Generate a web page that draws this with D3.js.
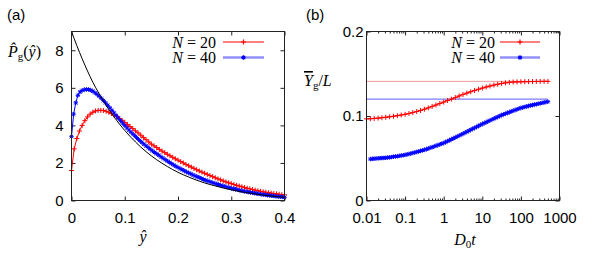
<!DOCTYPE html>
<html>
<head>
<meta charset="utf-8">
<script src="https://cdn.jsdelivr.net/npm/d3@7"></script>
<style>
  body { margin: 0; background: #fff; }
  svg { display: block; }
  .tick text { font-family: "Liberation Sans", Arial, sans-serif; font-size: 15px; fill: #000; }
  .tick line { stroke: #222; }
  .math { font-family: "Liberation Serif", "DejaVu Serif", serif; font-size: 16px; fill: #000; }
</style>
</head>
<body>
<svg id="chart" width="599" height="256"></svg>
<script>
// ---- panel (a) data: P_g(y) vs y-hat ----
const redAX = [0, .005, .01, .015, .02, .025, .03, .035, .04, .045,
  .05, .055, .06, .065, .07, .075, .08, .085, .09, .095,
  .1, .105, .11, .115, .12, .125, .13, .135, .14, .145,
  .15, .155, .16, .165, .17, .175, .18, .185, .19, .195,
  .2, .205, .21, .215, .22, .225, .23, .235, .24, .245,
  .25, .255, .26, .265, .27, .275, .28, .285, .29, .295,
  .3, .305, .31, .315, .32, .325, .33, .335, .34, .345,
  .35, .355, .36, .365, .37, .375, .38, .385, .39, .395, .4];
const redAY = [1.6, 2.75, 3.3, 3.7, 4.0, 4.25, 4.45, 4.6, 4.7, 4.77,
  4.8, 4.8, 4.79, 4.75, 4.7, 4.63, 4.55, 4.47, 4.37, 4.27,
  4.16, 4.05, 3.94, 3.83, 3.71, 3.6, 3.48, 3.36, 3.24, 3.12,
  3.0, 2.91, 2.82, 2.72, 2.63, 2.55, 2.46, 2.38, 2.3, 2.22,
  2.15, 2.07, 2.0, 1.92, 1.85, 1.78, 1.71, 1.64, 1.57, 1.51,
  1.45, 1.39, 1.33, 1.27, 1.21, 1.15, 1.1, 1.04, 0.99, 0.94,
  0.9, 0.85, 0.81, 0.77, 0.73, 0.69, 0.65, 0.62, 0.58, 0.55,
  0.52, 0.49, 0.46, 0.44, 0.41, 0.39, 0.37, 0.35, 0.33, 0.31, 0.3];
const blueAX = [0, .004, .008, .012, .016, .02, .024, .028, .032, .036,
  .04, .044, .048, .052, .056, .06, .064, .068, .072, .076,
  .08, .084, .088, .092, .096, .1, .104, .108, .112, .116,
  .12, .124, .128, .132, .136, .14, .144, .148, .152, .156,
  .16, .164, .168, .172, .176, .18, .184, .188, .192, .196,
  .2, .204, .208, .212, .216, .22, .224, .228, .232, .236,
  .24, .244, .248, .252, .256, .26, .264, .268, .272, .276,
  .28, .284, .288, .292, .296, .3, .304, .308, .312, .316,
  .32, .324, .328, .332, .336, .34, .344, .348, .352, .356,
  .36, .364, .368, .372, .376, .38, .384, .388, .392, .396, .4];
const blueAY = [3.4, 4.6, 5.2, 5.6, 5.78, 5.86, 5.9, 5.92, 5.91, 5.88,
  5.82, 5.74, 5.65, 5.55, 5.44, 5.32, 5.2, 5.07, 4.94, 4.8,
  4.66, 4.52, 4.38, 4.25, 4.12, 3.99, 3.87, 3.75, 3.63, 3.52,
  3.41, 3.3, 3.2, 3.1, 3.0, 2.91, 2.82, 2.73, 2.64, 2.56,
  2.49, 2.41, 2.33, 2.25, 2.18, 2.1, 2.03, 1.96, 1.89, 1.82,
  1.76, 1.7, 1.64, 1.58, 1.52, 1.47, 1.42, 1.36, 1.31, 1.26,
  1.22, 1.17, 1.12, 1.08, 1.04, 1.0, 0.96, 0.92, 0.88, 0.85,
  0.81, 0.78, 0.75, 0.71, 0.68, 0.65, 0.62, 0.6, 0.57, 0.54,
  0.52, 0.49, 0.47, 0.45, 0.43, 0.41, 0.39, 0.37, 0.35, 0.33,
  0.31, 0.3, 0.28, 0.27, 0.25, 0.24, 0.22, 0.21, 0.2, 0.19, 0.17];
const blackAX = [0, .01, .02, .03, .04, .05, .06, .07, .08, .09, .1,
  .12, .14, .16, .18, .2, .22, .24, .26, .28, .3, .32, .34, .36, .38, .4];
const blackAY = [9, 8.25, 7.55, 6.9, 6.3, 5.78, 5.3, 4.85, 4.45, 4.07, 3.73,
  3.12, 2.6, 2.17, 1.81, 1.5, 1.25, 1.03, 0.85, 0.7, 0.57, 0.46, 0.37, 0.29, 0.22, 0.17];

// ---- panel (b) data: Y_g/L vs D0 t ----
const redBT = [0.01, 0.0126, 0.0158, 0.02, 0.0251, 0.0316, 0.0398, 0.0501, 0.0631, 0.0794,
  0.1, 0.126, 0.158, 0.2, 0.251, 0.316, 0.398, 0.501, 0.631, 0.794,
  1, 1.26, 1.58, 2, 2.51, 3.16, 3.98, 5.01, 6.31, 7.94,
  10, 12.6, 15.8, 20, 25.1, 31.6, 39.8, 50.1, 63.1, 79.4,
  100, 126, 158, 200, 251, 316, 398, 501];
const redBY = [.0966, .0968, .0971, .0975, .0980, .0985, .0991, .0997, .1004, .1012,
  .1020, .1030, .1041, .1053, .1066, .1080, .1096, .1113, .1130, .1148,
  .1165, .1183, .1200, .1218, .1237, .1255, .1271, .1287, .1302, .1316,
  .1330, .1343, .1355, .1366, .1376, .1385, .1392, .1398, .1402, .1404,
  .1405, .1406, .1407, .1408, .1409, .1409, .1410, .1410];
const blueBT = [0.0126, 0.0141, 0.0158, 0.0178, 0.02, 0.0224, 0.0251, 0.0282, 0.0316, 0.0355,
  0.0398, 0.0447, 0.0501, 0.0562, 0.0631, 0.0708, 0.0794, 0.0891, 0.1, 0.112,
  0.126, 0.141, 0.158, 0.178, 0.2, 0.224, 0.251, 0.282, 0.316, 0.355,
  0.398, 0.447, 0.501, 0.562, 0.631, 0.708, 0.794, 0.891, 1, 1.12,
  1.26, 1.41, 1.58, 1.78, 2, 2.24, 2.51, 2.82, 3.16, 3.55,
  3.98, 4.47, 5.01, 5.62, 6.31, 7.08, 7.94, 8.91, 10, 11.2,
  12.6, 14.1, 15.8, 17.8, 20, 22.4, 25.1, 28.2, 31.6, 35.5,
  39.8, 44.7, 50.1, 56.2, 63.1, 70.8, 79.4, 89.1, 100, 112,
  126, 141, 158, 178, 200, 224, 251, 282, 316, 355,
  398, 447, 501];
const blueBY = [.0490, .0493, .0495, .0497, .0499, .0501, .0502, .0504, .0505, .0508,
  .0511, .0514, .0518, .0521, .0524, .0528, .0532, .0536, .0540, .0545,
  .0550, .0556, .0562, .0568, .0574, .0580, .0587, .0593, .0600, .0607,
  .0615, .0623, .0631, .0639, .0647, .0655, .0663, .0672, .0680, .0691,
  .0702, .0713, .0724, .0735, .0746, .0757, .0768, .0779, .0790, .0802,
  .0813, .0825, .0836, .0848, .0859, .0871, .0882, .0894, .0905, .0916,
  .0926, .0937, .0947, .0958, .0968, .0979, .0989, .1000, .1010, .1019,
  .1028, .1037, .1045, .1054, .1062, .1071, .1079, .1087, .1095, .1101,
  .1107, .1113, .1119, .1125, .1130, .1135, .1140, .1145, .1150, .1155,
  .1160, .1165, .1170];
const redLimit = 0.141, blueLimit = 0.12, limitT = [0.01, 500];

const xTicksA = [0, 0.1, 0.2, 0.3, 0.4];
const yTicksA = [0, 2, 4, 6, 8];
const xTicksB = [0.01, 0.1, 1, 10, 100, 1000];
const xLabelsB = ["0.01", "0.1", "1", "10", "100", "1000"];
const yTicksB = [0, 0.1, 0.2];
const legendNames = ["20", "40"];

const RED = "#ff0000", BLUE = "#0000ff";
const SERIF = "'Liberation Serif', 'DejaVu Serif', serif";
const svg = d3.select("#chart");

const plusPath = "M-2.5,0H2.5M0,-2.5V2.5";
const starPath = "M-2.2,0H2.2M0,-2.2V2.2M-1.7,-1.7L1.7,1.7M-1.7,1.7L1.7,-1.7";

function frame(g, xr, yr) {
  g.append("rect")
    .attr("x", xr[0]).attr("y", yr[1])
    .attr("width", xr[1] - xr[0]).attr("height", yr[0] - yr[1])
    .attr("fill", "none").attr("stroke", "#222").attr("stroke-width", 1);
}

function series(g, x, y, xs, ys, color, marker, lw) {
  const pts = xs.map((v, i) => [x(v), y(ys[i])]);
  g.append("path").attr("d", d3.line()(pts))
    .attr("fill", "none").attr("stroke", color).attr("stroke-width", lw);
  g.append("g").selectAll("path").data(pts).join("path")
    .attr("transform", d => `translate(${d[0]},${d[1]})`)
    .attr("d", marker).attr("fill", "none").attr("stroke", color).attr("stroke-width", 1);
}

function mathText(g, x, y) {
  return g.append("text").attr("class", "math").attr("x", x).attr("y", y)
    .style("font-family", SERIF).style("font-size", "16px");
}

function legend(g, xText, xLine0, xLine1) {
  const rows = [{c: RED, m: plusPath, w: 1, lc: RED}, {c: BLUE, m: starPath, w: 2.5, lc: "#9090f8"}];
  rows.forEach((r, i) => {
    const yy = 42 + i * 15.5;
    const t = mathText(g, xText, yy + 5.5).attr("text-anchor", "end");
    t.append("tspan").attr("font-style", "italic").text("N");
    t.append("tspan").text(" = " + legendNames[i]);
    g.append("line").attr("x1", xLine0).attr("x2", xLine1).attr("y1", yy).attr("y2", yy)
      .attr("stroke", r.lc).attr("stroke-width", r.w);
    g.append("path").attr("transform", `translate(${(xLine0 + xLine1) / 2},${yy})`)
      .attr("d", r.m).attr("fill", "none").attr("stroke", r.c).attr("stroke-width", 1.2);
  });
}

// ================= panel (a) =================
const xA = d3.scaleLinear().domain([0, 0.4]).range([71.5, 284.5]);
const yA = d3.scaleLinear().domain([0, 9]).range([200.5, 31.5]);
const gA = svg.append("g");

gA.append("g").attr("transform", "translate(0,200.5)")
  .call(d3.axisBottom(xA).tickValues(xTicksA).tickSize(-4).tickPadding(12).tickFormat(d3.format("")))
  .call(s => s.select(".domain").remove());
gA.append("g").attr("transform", "translate(0,31.5)")
  .call(d3.axisTop(xA).tickValues(xTicksA).tickSize(-4).tickFormat(""))
  .call(s => s.select(".domain").remove());
gA.append("g").attr("transform", "translate(71.5,0)")
  .call(d3.axisLeft(yA).tickValues(yTicksA).tickSize(-4).tickPadding(8))
  .call(s => s.select(".domain").remove());
gA.append("g").attr("transform", "translate(284.5,0)")
  .call(d3.axisRight(yA).tickValues(yTicksA).tickSize(-4).tickFormat(""))
  .call(s => s.select(".domain").remove());

series(gA, xA, yA, redAX, redAY, RED, plusPath, 1);
series(gA, xA, yA, blueAX, blueAY, BLUE, starPath, 1);
gA.append("path")
  .attr("d", d3.line().x((d, i) => xA(blackAX[i])).y(d => yA(d)).curve(d3.curveMonotoneX)(blackAY))
  .attr("fill", "none").attr("stroke", "#000").attr("stroke-width", 1);
frame(gA, xA.range(), yA.range());
legend(gA, 216, 223, 264);

gA.append("text").attr("x", 7).attr("y", 20)
  .style("font-family", "Liberation Sans, Arial, sans-serif").style("font-size", "15px").text("(a)");
const ylabA = mathText(gA, 8, 57);
ylabA.append("tspan").attr("font-style", "italic").text("P\u0302");
ylabA.append("tspan").attr("font-size", "11px").attr("dy", 3).text("g");
ylabA.append("tspan").attr("dy", -3).text("(");
ylabA.append("tspan").attr("font-style", "italic").text("y\u0302");
ylabA.append("tspan").text(")");
mathText(gA, 143, 242).attr("text-anchor", "middle").attr("font-style", "italic").text("y\u0302");

// ================= panel (b) =================
const xB = d3.scaleLog().domain([0.01, 1000]).range([366.5, 559.5]);
const yB = d3.scaleLinear().domain([0, 0.2]).range([200.5, 31.5]);
const gB = svg.append("g");
const minorB = xB.ticks().filter(v => !xTicksB.includes(v));

gB.append("g").attr("transform", "translate(0,200.5)")
  .call(d3.axisBottom(xB).tickValues(xTicksB).tickSize(-4).tickPadding(12)
    .tickFormat((d, i) => xLabelsB[i]))
  .call(s => s.select(".domain").remove());
gB.append("g").attr("transform", "translate(0,200.5)")
  .call(d3.axisBottom(xB).tickValues(minorB).tickSize(-2).tickFormat(""))
  .call(s => s.select(".domain").remove());
gB.append("g").attr("transform", "translate(0,31.5)")
  .call(d3.axisTop(xB).tickValues(xTicksB).tickSize(-4).tickFormat(""))
  .call(s => s.select(".domain").remove());
gB.append("g").attr("transform", "translate(0,31.5)")
  .call(d3.axisTop(xB).tickValues(minorB).tickSize(-2).tickFormat(""))
  .call(s => s.select(".domain").remove());
gB.append("g").attr("transform", "translate(366.5,0)")
  .call(d3.axisLeft(yB).tickValues(yTicksB).tickSize(-4).tickPadding(3).tickFormat(d3.format("")))
  .call(s => s.select(".domain").remove());
gB.append("g").attr("transform", "translate(559.5,0)")
  .call(d3.axisRight(yB).tickValues(yTicksB).tickSize(-4).tickFormat(""))
  .call(s => s.select(".domain").remove());

gB.append("line").attr("x1", xB(limitT[0])).attr("x2", xB(limitT[1]))
  .attr("y1", yB(redLimit)).attr("y2", yB(redLimit)).attr("stroke", "#f29a9a").attr("stroke-width", 1);
gB.append("line").attr("x1", xB(limitT[0])).attr("x2", xB(limitT[1]))
  .attr("y1", yB(blueLimit)).attr("y2", yB(blueLimit)).attr("stroke", "#5a5aff").attr("stroke-width", 1);

series(gB, xB, yB, redBT, redBY, RED, plusPath, 1);
series(gB, xB, yB, blueBT, blueBY, BLUE, starPath, 1);
frame(gB, xB.range(), yB.range());
legend(gB, 495, 500, 540);

gB.append("text").attr("x", 306).attr("y", 20)
  .style("font-family", "Liberation Sans, Arial, sans-serif").style("font-size", "15px").text("(b)");
const ylabB = mathText(gB, 304, 86);
ylabB.append("tspan").attr("font-style", "italic").attr("text-decoration", "overline").text("Y");
ylabB.append("tspan").attr("font-size", "11px").attr("dy", 3).text("g");
ylabB.append("tspan").attr("dy", -3).text("/");
ylabB.append("tspan").attr("font-style", "italic").text("L");
const xlabB = mathText(gB, 465, 245).attr("text-anchor", "middle");
xlabB.append("tspan").attr("font-style", "italic").text("D");
xlabB.append("tspan").attr("font-size", "11px").attr("dy", 3).text("0");
xlabB.append("tspan").attr("dy", -3).attr("font-style", "italic").text("t");
</script>
</body>
</html>
